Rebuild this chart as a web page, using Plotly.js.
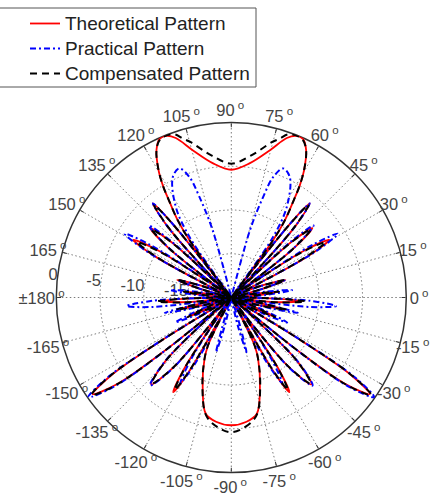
<!DOCTYPE html>
<html>
<head>
<meta charset="utf-8">
<script src="https://cdn.plot.ly/plotly-3.0.1.min.js"></script>
<style>html,body{margin:0;padding:0;background:#fff;}#chart{width:438px;height:495px;}</style>
</head>
<body>
<div id="chart"></div>
<script>
// [angle in degrees, level in dB]
const theoretical = [
[-90,-5.4],[-83,-5.7],[-77.6,-6.4],[-72.2,-9.3],[-66.5,-12.3],[-64,-14],[-62.5,-20],
[-61.5,-17.3],[-60.3,-10.3],[-58.5,-7.3],[-56.5,-10.3],[-55.1,-17.3],[-54,-20],
[-52.3,-16.5],[-50.3,-9.5],[-47.3,-6.5],[-44,-9.5],[-41.8,-16.5],[-40,-20],
[-38.7,-10.7],[-37.2,-3.7],[-34.9,-0.7],[-32.9,-3.7],[-31.6,-10.7],[-30.5,-20],
[-28.9,-19],[-26.9,-17.5],[-24,-14.5],[-21.3,-17.5],[-19.5,-19],[-18,-20],
[-16.6,-19],[-15.5,-17],[-12.5,-14],[-10.7,-17],[-9.5,-19],[-8.5,-20],
[-7.1,-19],[-6,-14.9],[-3,-11.9],[-1.4,-14.9],[-0.4,-19],[0.5,-20],
[2.1,-19],[4.1,-17.5],[7,-14.5],[9.5,-17.5],[11.1,-19],[12.5,-20],
[13.9,-19],[15.5,-16.5],[18,-13.5],[21.6,-16.5],[24,-19],[26,-20],
[27.1,-17],[28.4,-10],[30.4,-7],[32.7,-10],[34.2,-17],[35.5,-20],
[36.8,-17.8],[38.3,-10.8],[40.6,-7.8],[42.8,-10.8],[44.2,-17.8],[45.5,-20],
[46.7,-16],[48.1,-9],[50.2,-6],[51.4,-9],[52.2,-16],[52.8,-20],
[53.9,-11.9],[55.3,-9.2],[57.3,-6.8],[58.5,-5.1],[60.3,-3.2],[63.1,-1.1],[65.7,-0.1],[68.2,-0.1],[70.8,-0.7],[75.3,-2.6],[82.1,-4.5],[90,-5.4],
[97.9,-4.5],[104.7,-2.6],[109.2,-0.7],[111.8,-0.1],[114.3,-0.1],[116.9,-1.1],[119.7,-3.2],[121.5,-5.1],[122.7,-6.8],[124.7,-9.2],[126.1,-11.9],[127.2,-20],
[127.8,-16],[128.6,-9],[129.8,-6],[131.9,-9],[133.3,-16],[134.5,-20],
[135.8,-17.8],[137.2,-10.8],[139.4,-7.8],[141.7,-10.8],[143.2,-17.8],[144.5,-20],
[145.8,-17],[147.3,-10],[149.6,-7],[151.6,-10],[152.9,-17],[154,-20],
[156,-19],[158.4,-16.5],[162,-13.5],[164.5,-16.5],[166.1,-19],[167.5,-20],
[168.9,-19],[170.5,-17.5],[173,-14.5],[175.9,-17.5],[177.9,-19],[179.5,-20],
[180.4,-19],[181.4,-14.9],[183,-11.9],[186,-14.9],[187.1,-19],[188.5,-20],
[189.5,-19],[190.7,-17],[192.5,-14],[195.5,-17],[196.6,-19],[198,-20],
[199.5,-19],[201.3,-17.5],[204,-14.5],[206.9,-17.5],[208.9,-19],[210.5,-20],
[211.6,-10.7],[212.9,-3.7],[214.9,-0.7],[217.2,-3.7],[218.7,-10.7],[220,-20],
[221.8,-16.5],[224,-9.5],[227.3,-6.5],[230.3,-9.5],[232.3,-16.5],[234,-20],
[235.1,-17.3],[236.5,-10.3],[238.5,-7.3],[240.3,-10.3],[241.5,-17.3],[242.5,-20],
[244,-14],[246.5,-12.3],[252.2,-9.3],[257.6,-6.4],[263,-5.7],[270,-5.4]
];

const practical = [
[-90,-20],[-80,-20],[-78.6,-19],[-76.9,-16.5],[-74.4,-13.5],[-72.9,-16.5],[-71.4,-19],[-68,-20],
[-64,-20],[-62.8,-18.6],[-61.4,-11.6],[-59.3,-8.6],[-56.9,-11.6],[-55.3,-18.6],[-54,-20],
[-52.3,-16.3],[-50.3,-9.3],[-47.3,-6.3],[-44,-9.3],[-41.8,-16.3],[-40,-20],
[-38.7,-10.1],[-37.2,-3.1],[-34.9,-0.1],[-32.9,-3.1],[-31.6,-10.1],[-30.5,-20],
[-28.9,-19],[-26.9,-16],[-24,-13],[-21.3,-16],[-19.5,-19],[-18,-20],
[-16.8,-19],[-15.3,-15.2],[-13,-12.2],[-11.4,-15.2],[-10.4,-19],[-9.5,-20],
[-8.3,-18],[-6.9,-11],[-4.7,-8],[-2.4,-11],[-0.9,-18],[0.5,-20],
[2.1,-19],[4.1,-16],[7,-13],[9.5,-16],[11.1,-19],[12.5,-20],
[13.8,-19],[15.3,-16.6],[17.8,-13.6],[21.5,-16.6],[24,-19],[26,-20],
[27.2,-15.8],[28.7,-8.8],[30.9,-5.8],[32.9,-8.8],[34.3,-15.8],[35.5,-20],
[36.9,-17.5],[38.6,-10.5],[41.2,-7.5],[43.1,-10.5],[44.4,-17.5],[45.5,-20],
[46.7,-16],[48.1,-9],[50.2,-6],[51.4,-9],[52.2,-16],[53.5,-20],
[55.4,-11.6],[58.6,-7.8],[64.1,-4.7],[68.1,-4.1],[70.8,-5.4],[72.4,-7.9],[74.5,-12],[76.5,-20],[90,-20],
[103.5,-20],[105.5,-12],[107.6,-7.9],[109.2,-5.4],[111.9,-4.1],[115.9,-4.7],[121.4,-7.8],[124.6,-11.6],[126.5,-20],
[127.8,-16],[128.6,-9],[129.8,-6],[131.9,-9],[133.3,-16],[134.5,-20],
[135.6,-17.5],[136.9,-10.5],[138.8,-7.5],[141.4,-10.5],[143.1,-17.5],[144.5,-20],
[145.7,-15.8],[147.1,-8.8],[149.1,-5.8],[151.3,-8.8],[152.8,-15.8],[154,-20],
[156,-19],[158.5,-16.6],[162.2,-13.6],[164.7,-16.6],[166.2,-19],[167.5,-20],
[168.9,-19],[170.5,-16],[173,-13],[175.9,-16],[177.9,-19],[179.5,-20],
[180.9,-18],[182.4,-11],[184.7,-8],[186.9,-11],[188.3,-18],[189.5,-20],
[190.4,-19],[191.4,-15.2],[193,-12.2],[195.3,-15.2],[196.8,-19],[198,-20],
[199.5,-19],[201.3,-16],[204,-13],[206.9,-16],[208.9,-19],[210.5,-20],
[211.6,-10.1],[212.9,-3.1],[214.9,-0.1],[217.2,-3.1],[218.7,-10.1],[220,-20],
[221.8,-16.3],[224,-9.3],[227.3,-6.3],[230.3,-9.3],[232.3,-16.3],[234,-20],
[235.3,-18.6],[236.9,-11.6],[239.3,-8.6],[241.4,-11.6],[242.8,-18.6],[244,-20],
[248,-20],[251.4,-19],[252.9,-16.5],[254.4,-13.5],[256.9,-16.5],[258.6,-19],[260,-20],[270,-20]
];

const compensated = [
[-90,-4.6],[-84,-5.1],[-78,-6.2],[-72.2,-9.2],[-66.5,-12.3],[-64,-14],[-62.5,-20],
[-61.5,-17.6],[-60.3,-10.6],[-58.5,-7.6],[-56.5,-10.6],[-55.1,-17.6],[-54,-20],
[-52.3,-16.6],[-50.3,-9.6],[-47.3,-6.6],[-44,-9.6],[-41.8,-16.6],[-40,-20],
[-38.7,-10.5],[-37.2,-3.5],[-34.9,-0.5],[-32.9,-3.5],[-31.6,-10.5],[-30.5,-20],
[-28.9,-19],[-26.9,-17.5],[-24,-14.5],[-21.3,-17.5],[-19.5,-19],[-18,-20],
[-16.6,-19],[-15.5,-16.5],[-12.5,-13.5],[-10.7,-16.5],[-9.5,-19],[-8.5,-20],
[-7.1,-19],[-6,-14.5],[-3,-11.5],[-1.4,-14.5],[-0.4,-19],[0.5,-20],
[2.1,-19],[4.1,-17.5],[7,-14.5],[9.5,-17.5],[11.1,-19],[12.5,-20],
[13.9,-19],[15.5,-16.5],[18,-13.5],[21.6,-16.5],[24,-19],[26,-20],
[27.1,-17.5],[28.4,-10.5],[30.4,-7.5],[32.7,-10.5],[34.2,-17.5],[35.5,-20],
[36.8,-18],[38.3,-11],[40.6,-8],[42.8,-11],[44.2,-18],[45.5,-20],
[46.7,-16.2],[48.1,-9.2],[50.2,-6.2],[51.4,-9.2],[52.2,-16.2],[52.8,-20],
[53.9,-11.9],[55.3,-9.2],[57.3,-6.8],[58.5,-5.1],[60.3,-3.2],[63.1,-1.1],[65.7,-0.2],[68.5,-0.05],[71,-0.3],[73,-1],[75.5,-1.7],[82,-3.6],[90,-4.7],
[98,-3.6],[104.5,-1.7],[107,-1],[109,-0.3],[111.5,-0.05],[114.3,-0.2],[116.9,-1.1],[119.7,-3.2],[121.5,-5.1],[122.7,-6.8],[124.7,-9.2],[126.1,-11.9],[127.2,-20],
[127.8,-16.2],[128.6,-9.2],[129.8,-6.2],[131.9,-9.2],[133.3,-16.2],[134.5,-20],
[135.8,-18],[137.2,-11],[139.4,-8],[141.7,-11],[143.2,-18],[144.5,-20],
[145.8,-17.5],[147.3,-10.5],[149.6,-7.5],[151.6,-10.5],[152.9,-17.5],[154,-20],
[156,-19],[158.4,-16.5],[162,-13.5],[164.5,-16.5],[166.1,-19],[167.5,-20],
[168.9,-19],[170.5,-17.5],[173,-14.5],[175.9,-17.5],[177.9,-19],[179.5,-20],
[180.4,-19],[181.4,-14.5],[183,-11.5],[186,-14.5],[187.1,-19],[188.5,-20],
[189.5,-19],[190.7,-16.5],[192.5,-13.5],[195.5,-16.5],[196.6,-19],[198,-20],
[199.5,-19],[201.3,-17.5],[204,-14.5],[206.9,-17.5],[208.9,-19],[210.5,-20],
[211.6,-10.5],[212.9,-3.5],[214.9,-0.5],[217.2,-3.5],[218.7,-10.5],[220,-20],
[221.8,-16.6],[224,-9.6],[227.3,-6.6],[230.3,-9.6],[232.3,-16.6],[234,-20],
[235.1,-17.6],[236.5,-10.6],[238.5,-7.6],[240.3,-10.6],[241.5,-17.6],[242.5,-20],
[244,-14],[246.5,-12.3],[252.2,-9.2],[258,-6.2],[264,-5.1],[270,-4.6]
];

const seriesNames = ['Theoretical Pattern', 'Practical Pattern', 'Compensated Pattern'];
const angleTicks = [0,15,30,45,60,75,90,105,120,135,150,165,180,195,210,225,240,255,270,285,300,315,330,345];
const angleLabels = ['0','15','30','45','60','75','90','105','120','135','150','165','\u00b1180','-165','-150','-135','-120','-105','-90','-75','-60','-45','-30','-15'];
const radialTicks = [-15,-10,-5,0];
const radialLabels = ['-15','-10','-5','0'];

// layout constants
const W = 438, H = 495;
const cx = 231.3, cy = 297.5, R = 175;      // centre and radius (px) of the 0 dB circle
const DB_MIN = -20, DB_MAX = 0;
const LABEL_RING_PX = 189;                   // angular labels centred on this radius
const LABEL_DX = -1, LABEL_DY = 3;           // small nudge of the label ring centre
const RADIAL_LABEL_THETA = 173;
const ANGLE_LABEL_R = 1.7;                   // dB position of angular labels (beyond 0 dB)

const FONT = 'Liberation Sans, Arial, Helvetica, sans-serif';
const LABEL_COLOR = '#444';
const LABEL_SIZE = 16.5;

function mk(data, name, color, width, dash) {
  return {
    type: 'scatterpolar', mode: 'lines',
    name: '<span style="font-size:19px">' + name + '</span>',
    theta: data.map(p => p[0]), r: data.map(p => p[1]),
    line: {color: color, width: width, dash: dash, shape: 'spline', smoothing: 1},
    hoverinfo: 'skip'
  };
}

const radialLabelTrace = {
  type: 'scatterpolar', mode: 'text', showlegend: false, hoverinfo: 'skip',
  r: radialTicks, theta: radialTicks.map(() => RADIAL_LABEL_THETA),
  text: radialLabels, textposition: 'middle left', cliponaxis: false,
  textfont: {family: FONT, size: LABEL_SIZE, color: LABEL_COLOR}
};

const pxPerDb = R / (DB_MAX - DB_MIN);
const R2 = LABEL_RING_PX + 6;
const outerMax = DB_MIN + R2 / pxPerDb;
const labelR = DB_MIN + LABEL_RING_PX / pxPerDb;

// angular labels live on a second, invisible polar subplot that shares the
// centre and dB scale of the chart but reaches a little further out
const angleLabelTrace = {
  type: 'scatterpolar', subplot: 'polar2', mode: 'text', showlegend: false, hoverinfo: 'skip',
  r: angleTicks.map(() => labelR), theta: angleTicks,
  text: angleLabels.map(s => s + '<sup> o</sup>'), textposition: 'middle center', cliponaxis: false,
  textfont: {family: FONT, size: LABEL_SIZE, color: LABEL_COLOR}
};

const traces = [
  radialLabelTrace,
  mk(theoretical, seriesNames[0], '#ff0000', 1.8, 'solid'),
  mk(practical, seriesNames[1], '#0000ff', 2, '6px,3px,2px,3px'),
  mk(compensated, seriesNames[2], '#000000', 2, '7px,5px'),
  angleLabelTrace
];

const cx2 = cx + LABEL_DX, cy2 = cy + LABEL_DY;

const layout = {
  width: W, height: H,
  margin: {l: 0, r: 0, t: 0, b: 0},
  paper_bgcolor: '#fff',
  font: {family: FONT, color: '#222'},
  showlegend: true,
  legend: {
    x: 25 / W, xanchor: 'left', y: 1 - 6 / H, yanchor: 'top',
    bgcolor: 'rgba(0,0,0,0)', borderwidth: 0,
    font: {family: FONT, size: 16.9, color: '#222'},
    tracegroupgap: 0
  },
  shapes: [{
    type: 'rect', xref: 'paper', yref: 'paper',
    x0: -2 / W, x1: 256 / W, y0: 1 - 87 / H, y1: 1 - 8 / H,
    line: {color: '#555', width: 1}, fillcolor: 'rgba(0,0,0,0)', layer: 'below'
  }],
  polar: {
    domain: {x: [(cx - R) / W, (cx + R) / W], y: [(H - cy - R) / H, (H - cy + R) / H]},
    bgcolor: '#fff',
    radialaxis: {
      range: [DB_MIN, DB_MAX], tickvals: radialTicks, ticktext: radialLabels,
      angle: RADIAL_LABEL_THETA, showline: false, ticks: '', showticklabels: false,
      gridcolor: '#7a7a7a', griddash: '1.5px,2.5px', gridwidth: 1,
      layer: 'below traces'
    },
    angularaxis: {
      rotation: 0, direction: 'counterclockwise',
      tickvals: angleTicks, showticklabels: false,
      showline: true, linecolor: '#333', linewidth: 1.5,
      ticks: 'inside', ticklen: 4, tickcolor: '#333',
      gridcolor: '#7a7a7a', griddash: '1.5px,2.5px', gridwidth: 1,
      layer: 'below traces'
    }
  },
  polar2: {
    domain: {x: [(cx2 - R2) / W, (cx2 + R2) / W], y: [(H - cy2 - R2) / H, (H - cy2 + R2) / H]},
    bgcolor: 'rgba(0,0,0,0)',
    radialaxis: {range: [DB_MIN, outerMax], visible: false, showgrid: false, showline: false, showticklabels: false, ticks: ''},
    angularaxis: {rotation: 0, direction: 'counterclockwise', showgrid: false, showline: false, showticklabels: false, ticks: ''}
  }
};

Plotly.newPlot('chart', traces, layout, {displayModeBar: false, staticPlot: true});
</script>
</body>
</html>
